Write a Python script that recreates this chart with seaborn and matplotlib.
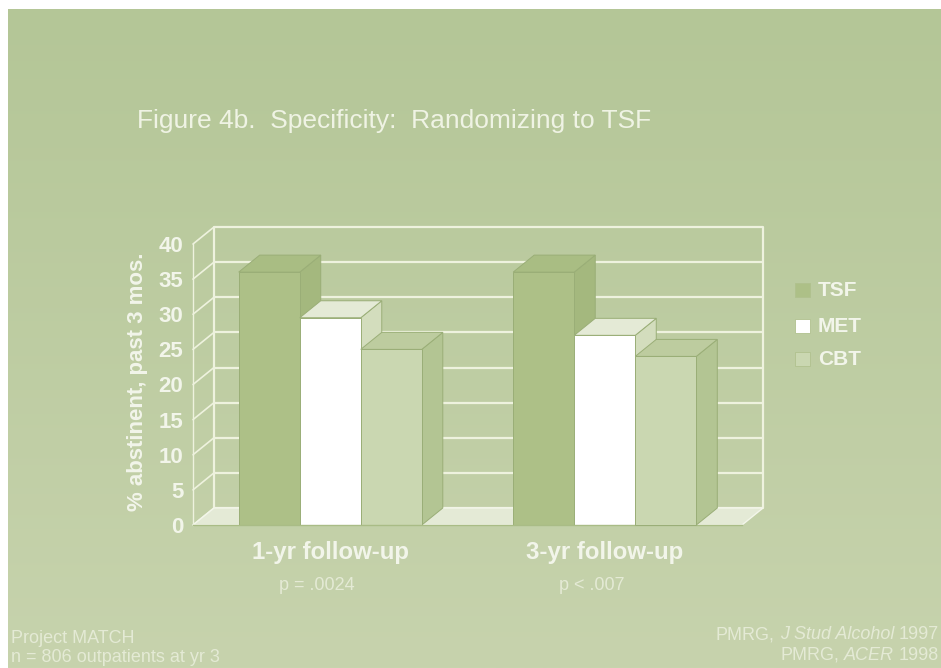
import numpy as np
import pandas as pd
import matplotlib
matplotlib.use("Agg")
import matplotlib.pyplot as plt
import seaborn as sns
from matplotlib.patches import Polygon, Rectangle
from matplotlib.colors import LinearSegmentedColormap
from matplotlib.transforms import blended_transform_factory

# ---- data -------------------------------------------------------------
followups = ["1-yr follow-up", "3-yr follow-up"]
p_values = ["p = .0024", "p < .007"]
treatments = ["TSF", "MET", "CBT"]
tsf_pct = [36, 36]
met_pct = [29.5, 27]
cbt_pct = [25, 24]
y_ticks = [0, 5, 10, 15, 20, 25, 30, 35, 40]

df = pd.DataFrame({
    "followup": followups * 3,
    "treatment": [t for t in treatments for _ in followups],
    "pct": tsf_pct + met_pct + cbt_pct,
})

# ---- style ------------------------------------------------------------
sns.set_style("white")
plt.rcParams["font.family"] = ["Liberation Sans", "DejaVu Sans"]

TXT = "#f2f5ea"
FADED = "#e4ead5"
WALL_LINE = "#eef2de"
EDGE = "#9aae77"
front_col = {"TSF": "#adc087", "MET": "#ffffff", "CBT": "#cad7b1"}
top_col = {"TSF": "#a9bd83", "MET": "#e4ead6", "CBT": "#bdcc9f"}
side_col = {"TSF": "#a4b87e", "MET": "#d3ddbd", "CBT": "#b3c593"}

W, H = 941, 668
fig = plt.figure(figsize=(W / 100, H / 100), dpi=100, facecolor="white")


def px_rect(x0, y0, x1, y1):
    return [x0 / W, 1 - y1 / H, (x1 - x0) / W, (y1 - y0) / H]


# slide background with a soft vertical gradient
bg = fig.add_axes(px_rect(8, 9, W, H))
grad = np.linspace(0, 1, 256).reshape(-1, 1)
bg_cmap = LinearSegmentedColormap.from_list("slide", ["#b4c697", "#c7d3ad"])
bg.imshow(grad, aspect="auto", cmap=bg_cmap, extent=[0, 1, 0, 1], origin="upper")
bg.set_axis_off()

# ---- chart axes (front plane) -----------------------------------------
ax = fig.add_axes(px_rect(193, 244, 742, 525))
ax.set_facecolor("none")

# front faces of the columns
sns.barplot(data=df, x="followup", y="pct", hue="treatment",
            order=followups, hue_order=treatments,
            palette=front_col, saturation=1, width=0.667, gap=0,
            errorbar=None, edgecolor=EDGE, linewidth=0.7,
            legend=False, ax=ax)
bars = sorted([p for p in ax.patches if isinstance(p, Rectangle)],
              key=lambda p: p.get_x())

# depth offset of the pseudo-3D box, in data units
DX = 21 / 549 * 2
DY = 17 / 281 * 40
XL, XR = -0.5, 1.5

# back wall gridlines, side-wall diagonals and wall edges
for v in y_ticks:
    ax.plot([XL + DX, XR + DX], [v + DY, v + DY], color=WALL_LINE, lw=1.6,
            zorder=1, clip_on=False, solid_capstyle="butt")
    ax.plot([XL, XL + DX], [v, v + DY], color=WALL_LINE, lw=1.2,
            zorder=1, clip_on=False)
for xb in (XL + DX, XR + DX):
    ax.plot([xb, xb], [DY, y_ticks[-1] + DY], color=WALL_LINE, lw=1.6,
            zorder=1, clip_on=False)

# floor
ax.add_patch(Polygon([(XL, 0), (XR, 0), (XR + DX, DY), (XL + DX, DY)],
                     closed=True, facecolor="#e4ead6", edgecolor="#f3f6ea",
                     lw=1.0, zorder=1.5, clip_on=False))

# tops and right-hand sides of the columns, drawn left to right
bar_names = [t for _ in followups for t in treatments]
for k, (bar, name) in enumerate(zip(bars, bar_names)):
    x0 = bar.get_x()
    x1 = x0 + bar.get_width()
    h = bar.get_height()
    z = 2 + k * 0.1
    ax.add_patch(Polygon([(x1, 0), (x1 + DX, DY), (x1 + DX, h + DY), (x1, h)],
                         closed=True, facecolor=side_col[name], edgecolor=EDGE,
                         lw=0.7, zorder=z, clip_on=False))
    ax.add_patch(Polygon([(x0, h), (x1, h), (x1 + DX, h + DY), (x0 + DX, h + DY)],
                         closed=True, facecolor=top_col[name], edgecolor=EDGE,
                         lw=0.7, zorder=z, clip_on=False))
    bar.set_zorder(z + 0.05)
    bar.set_clip_on(False)

ax.set_xlim(XL, XR)
ax.set_ylim(0, 40)
ax.set_xlabel("")
ax.set_ylabel("")

for s in ("top", "right"):
    ax.spines[s].set_visible(False)
ax.spines["left"].set_color(WALL_LINE)
ax.spines["left"].set_linewidth(1.0)
ax.spines["bottom"].set_color("#a9bc86")
ax.spines["bottom"].set_linewidth(1.0)
ax.spines["left"].set_zorder(1)

ax.set_yticks(y_ticks)
ax.set_yticklabels([str(v) for v in y_ticks], fontsize=16, fontweight="bold",
                   color=TXT)
ax.tick_params(axis="y", direction="out", length=5, width=1,
               color=WALL_LINE, pad=2)
ax.set_xticks([-0.5, 0.5, 1.5])
ax.set_xticklabels([])
ax.tick_params(axis="x", direction="out", length=5, width=1, color="#a9bc86")

# category labels and p-values under each group
tr = blended_transform_factory(ax.transData, ax.transAxes)
for i, (lab, pv) in enumerate(zip(followups, p_values)):
    ax.text(i, (525 - 553) / 281, lab, transform=tr, ha="center", va="center",
            fontsize=17.3, fontweight="bold", color=TXT)
    ax.text(i - 0.048, (525 - 586) / 281, pv, transform=tr, ha="center",
            va="center", fontsize=13, color=FADED)

# axis title
fig.text(137 / W, 1 - 382 / H, "% abstinent, past 3 mos.", rotation=90,
         ha="center", va="center", fontsize=16, fontweight="bold", color=TXT)

# legend
legend_y = [290, 326, 359]
for t, yc in zip(treatments, legend_y):
    fig.add_artist(Rectangle((795 / W, 1 - (yc + 7) / H), 15 / W, 14 / H,
                             transform=fig.transFigure, facecolor=front_col[t],
                             edgecolor="#b0c18e", lw=0.6))
    fig.text(818 / W, 1 - yc / H, t, ha="left", va="center", fontsize=15,
             fontweight="bold", color=TXT)

# slide title
fig.text(137 / W, 1 - 128 / H, "Figure 4b.  Specificity:  Randomizing to TSF",
         ha="left", va="baseline", fontsize=19, color="#eff3e4")

# footnotes
fig.text(11 / W, 1 - 643 / H, "Project MATCH", ha="left", va="baseline",
         fontsize=13, color=FADED)
fig.text(11 / W, 1 - 662 / H, "n = 806 outpatients at yr 3", ha="left",
         va="baseline", fontsize=13, color=FADED)


def right_line(y_px, runs):
    """Right-aligned line built from (text, style) runs, laid out from the right."""
    text, style = runs[-1]
    prev = fig.text(939 / W, 1 - y_px / H, text, ha="right", va="bottom",
                    fontsize=13, style=style, color=FADED)
    for text, style in reversed(runs[:-1]):
        prev = ax.annotate(text, xy=(0, 0), xycoords=prev,
                           xytext=(-3.5, 0), textcoords="offset points",
                           ha="right", va="bottom", fontsize=13,
                           style=style, color=FADED, annotation_clip=False)
    return prev


right_line(643, [("PMRG,", "normal"), ("J Stud Alcohol", "italic"),
                 ("1997", "normal")])
right_line(664, [("PMRG,", "normal"), ("ACER", "italic"), ("1998", "normal")])

fig.savefig("out.png", dpi=100, facecolor=fig.get_facecolor())
